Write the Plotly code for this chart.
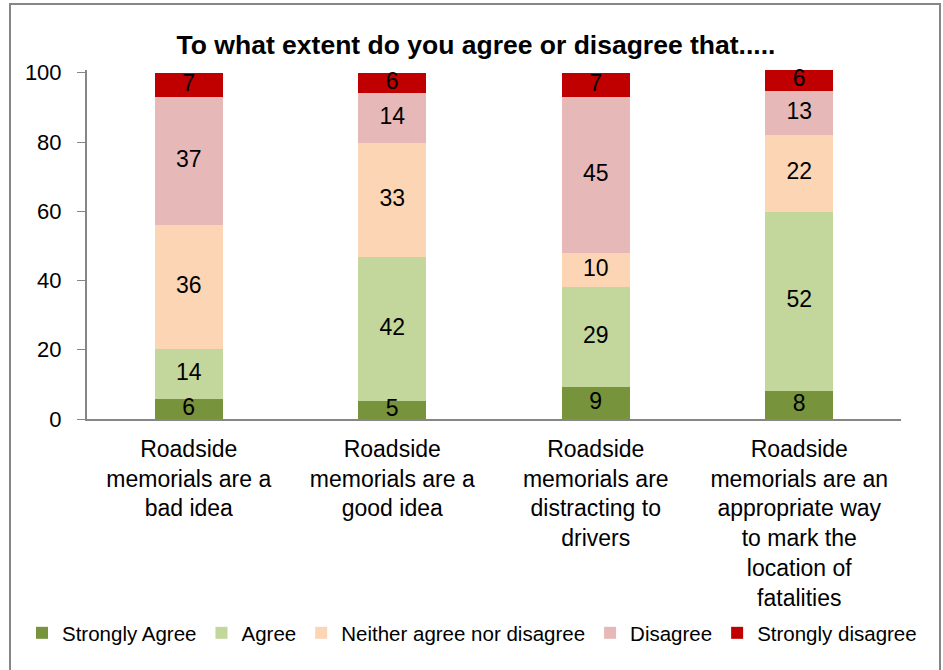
import plotly.graph_objects as go
import numpy as np

categories = [
    "Roadside<br>memorials are a<br>bad idea",
    "Roadside<br>memorials are a<br>good idea",
    "Roadside<br>memorials are<br>distracting to<br>drivers",
    "Roadside<br>memorials are an<br>appropriate way<br>to mark the<br>location of<br>fatalities",
]
strongly_agree = [5.8, 5.2, 9.2, 8.1]
agree = [14.4, 41.6, 29.0, 51.7]
neither = [35.8, 33.0, 9.8, 22.2]
disagree = [37.0, 14.4, 45.0, 12.7]
strongly_disagree = [7.0, 5.8, 7.0, 6.0]

series_names = ["Strongly Agree", "Agree", "Neither agree nor disagree", "Disagree", "Strongly disagree"]
series_values = [strongly_agree, agree, neither, disagree, strongly_disagree]
colors = ["#77933C", "#C3D69B", "#FCD5B5", "#E6B9B8", "#C00000"]

FONT = "Liberation Sans, Arial, sans-serif"

fig = go.Figure()
for name, vals, col in zip(series_names, series_values, colors):
    fig.add_trace(go.Bar(
        x=categories, y=vals, name=name,
        marker=dict(color=col, line=dict(width=0)),
        hoverinfo="x+y+name",
    ))

# value labels at the middle of each stacked segment
base = np.zeros(len(categories))
for vals in series_values:
    v = np.array(vals)
    mids = base + v / 2
    fig.add_trace(go.Scatter(
        x=categories, y=mids, mode="text",
        text=[f"{round(x):d}" for x in vals],
        textposition="middle center",
        textfont=dict(family=FONT, size=23, color="black"),
        showlegend=False, hoverinfo="skip", cliponaxis=False,
    ))
    base = base + v

W, H = 943, 670
L, R, T, B = 87, 42, 70, 251
pw = W - L - R
ph = H - T - B
YMAX = 100.8

def px(x):
    return (x - L) / pw

def py(y):
    return (H - B - y) / ph

fig.update_layout(
    width=W, height=H,
    barmode="stack", bargap=0.667,
    margin=dict(l=L, r=R, t=T, b=B, autoexpand=False),
    paper_bgcolor="white", plot_bgcolor="white",
    font=dict(family=FONT, color="black"),
    title=dict(text="<b>To what extent do you agree or disagree that.....</b>",
               x=(476) / W, xanchor="center", y=1 - 45 / H, yanchor="middle",
               font=dict(family=FONT, size=26.5, color="black")),
    showlegend=True,
    legend=dict(orientation="h", x=px(22), xanchor="left", y=py(633), yanchor="middle",
                font=dict(family=FONT, size=20.5, color="black"), traceorder="normal",
                itemclick=False, itemdoubleclick=False),
    shapes=[dict(type="rect", xref="paper", yref="paper",
                 x0=px(10), x1=px(940), y0=py(672), y1=py(4),
                 line=dict(color="#868686", width=2), fillcolor="rgba(0,0,0,0)", layer="below")],
)
fig.update_xaxes(showline=True, linecolor="#868686", linewidth=2, ticks="",
                 tickfont=dict(family=FONT, size=23, color="black"), showgrid=False,
                 tickangle=0, fixedrange=True, ticklabelstandoff=8)
fig.update_yaxes(range=[0, YMAX], tickvals=[0, 20, 40, 60, 80, 100], showline=True,
                 linecolor="#868686", linewidth=2, ticks="outside", ticklen=8, tickcolor="#868686",
                 tickfont=dict(family=FONT, size=22, color="black"), showgrid=False, zeroline=False,
                 fixedrange=True, ticklabelstandoff=11)

fig.write_html("out.html", config={"displayModeBar": False},
               post_script="document.body.style.margin='0';")
